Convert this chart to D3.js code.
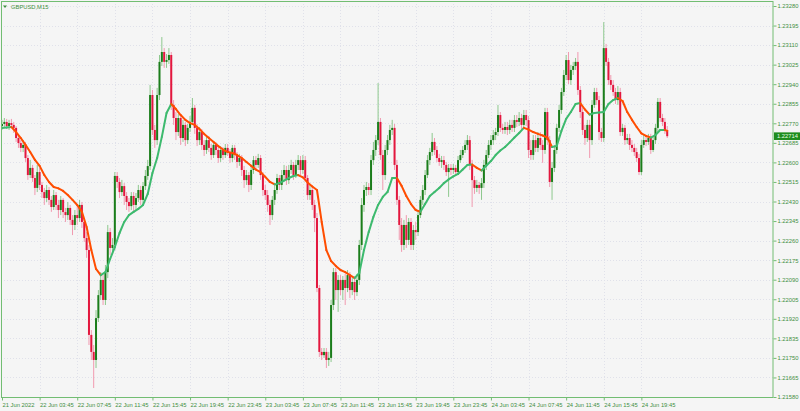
<!DOCTYPE html>
<html><head><meta charset="utf-8">
<script src="https://cdn.jsdelivr.net/npm/d3@7"></script>
<style>
html,body{margin:0;padding:0;background:#f5f5f5;}
svg{display:block;font-family:"Liberation Sans",Arial,sans-serif;}
</style></head><body>
<svg id="c" width="800" height="411"></svg>
<script>
const symbol = "GBPUSD,M15";
const firstOpen = 1.22758;
const closes = [
1.22767,1.22776,1.22758,1.22771,1.22763,1.22750,1.22706,1.22684,1.22663,1.22676,1.22619,1.22545,1.22576,1.22532,1.22489,1.22558,
1.22502,1.22471,1.22445,1.22480,1.22437,1.22406,1.22458,1.22415,1.22393,1.22437,1.22384,1.22371,1.22402,1.22350,1.22328,1.22371,
1.22358,1.22415,1.22341,1.22271,1.22219,1.21850,1.21776,1.21741,1.21923,1.22023,1.22089,1.22002,1.22123,1.22297,1.22228,1.22241,
1.22541,1.22515,1.22471,1.22497,1.22454,1.22428,1.22410,1.22454,1.22415,1.22445,1.22480,1.22437,1.22497,1.22541,1.22584,1.22893,
1.22741,1.22697,1.22893,1.23037,1.23080,1.23037,1.23045,1.23067,1.22850,1.22793,1.22732,1.22793,1.22706,1.22763,1.22697,1.22750,
1.22776,1.22837,1.22750,1.22697,1.22732,1.22676,1.22654,1.22697,1.22663,1.22632,1.22676,1.22654,1.22619,1.22654,1.22632,1.22663,
1.22645,1.22619,1.22663,1.22632,1.22602,1.22619,1.22567,1.22523,1.22545,1.22502,1.22567,1.22610,1.22589,1.22619,1.22545,1.22480,
1.22458,1.22415,1.22371,1.22437,1.22480,1.22532,1.22502,1.22545,1.22567,1.22523,1.22567,1.22589,1.22545,1.22589,1.22610,1.22567,
1.22610,1.22532,1.22458,1.22480,1.22415,1.22358,1.22054,1.21776,1.21762,1.21776,1.21741,1.21750,1.21980,1.22123,1.22045,1.22089,
1.22045,1.22089,1.22054,1.22110,1.22045,1.22080,1.22036,1.22089,1.22241,1.22415,1.22480,1.22493,1.22480,1.22610,1.22654,1.22697,
1.22776,1.22632,1.22545,1.22654,1.22697,1.22741,1.22750,1.22589,1.22437,1.22328,1.22241,1.22328,1.22263,1.22341,1.22241,1.22306,
1.22297,1.22371,1.22437,1.22480,1.22545,1.22610,1.22645,1.22689,1.22654,1.22619,1.22602,1.22610,1.22589,1.22558,1.22576,1.22567,
1.22576,1.22558,1.22610,1.22632,1.22654,1.22676,1.22697,1.22589,1.22523,1.22489,1.22502,1.22489,1.22510,1.22589,1.22632,1.22676,
1.22697,1.22719,1.22732,1.22806,1.22750,1.22741,1.22754,1.22741,1.22763,1.22750,1.22784,1.22776,1.22793,1.22763,1.22806,1.22784,
1.22654,1.22632,1.22697,1.22663,1.22706,1.22676,1.22654,1.22819,1.22697,1.22515,1.22576,1.22654,1.22750,1.22828,1.22906,1.22980,
1.23045,1.22958,1.23002,1.23019,1.23037,1.22915,1.22819,1.22741,1.22706,1.22763,1.22697,1.22850,1.22906,1.22871,1.22732,1.22706,
1.23097,1.23037,1.22958,1.22937,1.22906,1.22871,1.22906,1.22732,1.22750,1.22697,1.22706,1.22676,1.22663,1.22645,1.22619,1.22558,
1.22676,1.22697,1.22689,1.22706,1.22654,1.22697,1.22750,1.22863,1.22793,1.22776,1.22741,1.22714];
const highs = [
1.22785,1.22793,1.22789,1.22785,1.22789,1.22776,1.22758,1.22724,1.22697,1.22697,1.22689,1.22632,1.22611,1.22589,1.22545,1.22589,
1.22576,1.22515,1.22489,1.22502,1.22493,1.22454,1.22480,1.22471,1.22437,1.22454,1.22445,1.22402,1.22428,1.22415,1.22371,1.22393,
1.22415,1.22437,1.22428,1.22358,1.22297,1.22241,1.21871,1.21806,1.21958,1.22045,1.22123,1.22110,1.22154,1.22328,1.22315,1.22271,
1.22558,1.22558,1.22532,1.22524,1.22510,1.22471,1.22445,1.22471,1.22471,1.22467,1.22502,1.22498,1.22515,1.22567,1.22611,1.22937,
1.22915,1.22763,1.22924,1.23067,1.23145,1.23097,1.23071,1.23097,1.23080,1.22871,1.22819,1.22811,1.22806,1.22785,1.22776,1.22767,
1.22802,1.22880,1.22850,1.22767,1.22754,1.22745,1.22697,1.22715,1.22715,1.22680,1.22693,1.22689,1.22667,1.22671,1.22667,1.22680,
1.22680,1.22658,1.22676,1.22676,1.22645,1.22637,1.22632,1.22585,1.22567,1.22558,1.22585,1.22628,1.22628,1.22637,1.22632,1.22558,
1.22502,1.22480,1.22437,1.22454,1.22498,1.22550,1.22545,1.22567,1.22589,1.22585,1.22589,1.22611,1.22602,1.22611,1.22632,1.22628,
1.22632,1.22628,1.22545,1.22502,1.22498,1.22437,1.22380,1.22067,1.21793,1.21793,1.21793,1.21776,1.22002,1.22141,1.22141,1.22110,
1.22110,1.22106,1.22115,1.22132,1.22123,1.22097,1.22106,1.22115,1.22263,1.22445,1.22502,1.22515,1.22510,1.22632,1.22689,1.22719,
1.22945,1.22793,1.22654,1.22676,1.22719,1.22763,1.22785,1.22767,1.22611,1.22454,1.22358,1.22350,1.22371,1.22358,1.22358,1.22328,
1.22341,1.22393,1.22454,1.22502,1.22567,1.22632,1.22663,1.22728,1.22706,1.22671,1.22637,1.22628,1.22628,1.22602,1.22593,1.22593,
1.22593,1.22589,1.22628,1.22654,1.22671,1.22697,1.22719,1.22715,1.22611,1.22541,1.22524,1.22515,1.22532,1.22611,1.22654,1.22697,
1.22719,1.22741,1.22750,1.22850,1.22819,1.22767,1.22776,1.22776,1.22785,1.22785,1.22806,1.22806,1.22819,1.22811,1.22828,1.22828,
1.22802,1.22697,1.22719,1.22719,1.22732,1.22732,1.22697,1.22837,1.22837,1.22715,1.22602,1.22676,1.22767,1.22850,1.22924,1.23002,
1.23067,1.23080,1.23024,1.23037,1.23054,1.23080,1.22932,1.22837,1.22763,1.22785,1.22785,1.22871,1.22924,1.22924,1.22889,1.22750,
1.23210,1.23115,1.23054,1.22980,1.22958,1.22924,1.22932,1.22924,1.22767,1.22763,1.22724,1.22724,1.22697,1.22680,1.22663,1.22637,
1.22697,1.22719,1.22715,1.22724,1.22724,1.22715,1.22767,1.22880,1.22880,1.22811,1.22793,1.22758];
const lows = [
1.22741,1.22754,1.22745,1.22741,1.22750,1.22728,1.22689,1.22663,1.22645,1.22645,1.22602,1.22524,1.22532,1.22515,1.22458,1.22471,
1.22480,1.22445,1.22415,1.22428,1.22415,1.22385,1.22393,1.22393,1.22358,1.22371,1.22358,1.22341,1.22350,1.22328,1.22284,1.22306,
1.22328,1.22341,1.22315,1.22254,1.22185,1.21806,1.21741,1.21619,1.21706,1.21906,1.22002,1.21980,1.21980,1.22097,1.22198,1.22211,
1.22219,1.22489,1.22445,1.22454,1.22415,1.22393,1.22385,1.22393,1.22385,1.22393,1.22428,1.22415,1.22419,1.22480,1.22524,1.22567,
1.22719,1.22663,1.22676,1.22871,1.23019,1.23011,1.23011,1.23028,1.22828,1.22763,1.22697,1.22715,1.22676,1.22689,1.22671,1.22680,
1.22732,1.22763,1.22724,1.22671,1.22676,1.22654,1.22628,1.22637,1.22645,1.22611,1.22619,1.22632,1.22598,1.22602,1.22611,1.22619,
1.22628,1.22598,1.22602,1.22611,1.22576,1.22585,1.22541,1.22489,1.22502,1.22471,1.22480,1.22550,1.22567,1.22576,1.22524,1.22454,
1.22437,1.22385,1.22328,1.22350,1.22415,1.22463,1.22480,1.22480,1.22524,1.22502,1.22506,1.22550,1.22524,1.22532,1.22567,1.22545,
1.22550,1.22515,1.22437,1.22437,1.22393,1.22297,1.22036,1.21754,1.21741,1.21750,1.21706,1.21715,1.21732,1.21958,1.22002,1.21950,
1.22023,1.22002,1.21980,1.22036,1.22010,1.22023,1.22002,1.22019,1.22067,1.22219,1.22385,1.22454,1.22458,1.22458,1.22589,1.22628,
1.22676,1.22611,1.22480,1.22524,1.22632,1.22676,1.22719,1.22567,1.22415,1.22263,1.22211,1.22219,1.22228,1.22241,1.22219,1.22219,
1.22263,1.22280,1.22358,1.22415,1.22458,1.22532,1.22589,1.22628,1.22632,1.22602,1.22585,1.22576,1.22567,1.22541,1.22450,1.22545,
1.22550,1.22541,1.22545,1.22598,1.22619,1.22641,1.22654,1.22567,1.22406,1.22463,1.22471,1.22463,1.22437,1.22489,1.22567,1.22619,
1.22654,1.22676,1.22697,1.22715,1.22732,1.22724,1.22724,1.22719,1.22724,1.22732,1.22732,1.22754,1.22758,1.22741,1.22750,1.22758,
1.22619,1.22611,1.22611,1.22645,1.22645,1.22654,1.22598,1.22637,1.22676,1.22493,1.22437,1.22558,1.22637,1.22732,1.22811,1.22889,
1.22958,1.22941,1.22937,1.22980,1.23002,1.22893,1.22793,1.22719,1.22676,1.22689,1.22619,1.22676,1.22837,1.22850,1.22697,1.22689,
1.22689,1.23019,1.22937,1.22915,1.22889,1.22854,1.22850,1.22715,1.22715,1.22676,1.22680,1.22654,1.22645,1.22628,1.22602,1.22545,
1.22545,1.22663,1.22671,1.22676,1.22637,1.22645,1.22680,1.22732,1.22776,1.22758,1.22724,1.22706];
// moving average, read at every second bar (last value at the last bar)
const maValues = [
1.22750,1.22752,1.22754,1.22732,1.22706,1.22676,1.22645,1.22611,1.22585,1.22545,1.22515,1.22493,1.22487,1.22476,1.22458,1.22437,
1.22415,1.22385,1.22319,1.22219,1.22137,1.22110,1.22123,1.22180,1.22232,1.22293,1.22341,1.22371,1.22385,1.22398,1.22415,1.22463,
1.22554,1.22619,1.22711,1.22815,1.22854,1.22832,1.22806,1.22785,1.22771,1.22763,1.22745,1.22724,1.22706,1.22689,1.22671,1.22656,
1.22645,1.22641,1.22632,1.22619,1.22602,1.22585,1.22569,1.22558,1.22537,1.22515,1.22504,1.22510,1.22521,1.22532,1.22541,1.22545,
1.22535,1.22513,1.22495,1.22480,1.22341,1.22219,1.22171,1.22150,1.22132,1.22123,1.22110,1.22097,1.22119,1.22219,1.22297,1.22363,
1.22415,1.22450,1.22471,1.22532,1.22532,1.22498,1.22454,1.22419,1.22393,1.22385,1.22419,1.22454,1.22471,1.22489,1.22510,1.22526,
1.22539,1.22550,1.22569,1.22589,1.22591,1.22576,1.22565,1.22585,1.22606,1.22632,1.22652,1.22667,1.22687,1.22708,1.22728,1.22750,
1.22743,1.22732,1.22724,1.22717,1.22708,1.22667,1.22671,1.22737,1.22789,1.22819,1.22854,1.22858,1.22830,1.22808,1.22815,1.22817,
1.22819,1.22854,1.22871,1.22880,1.22867,1.22819,1.22785,1.22754,1.22726,1.22715,1.22708,1.22719,1.22741,1.22741,1.22737];
const priceLabels = ["1.23280","1.23195","1.23110","1.23025","1.22940","1.22855","1.22770","1.22685","1.22600","1.22515","1.22430",
"1.22345","1.22260","1.22175","1.22090","1.22005","1.21920","1.21835","1.21750","1.21665","1.21580"];
const timeLabels = ["21 Jun 2022","22 Jun 03:45","22 Jun 07:45","22 Jun 11:45","22 Jun 15:45","22 Jun 19:45","22 Jun 23:45",
"23 Jun 03:45","23 Jun 07:45","23 Jun 11:45","23 Jun 15:45","23 Jun 19:45","23 Jun 23:45","24 Jun 03:45","24 Jun 07:45",
"24 Jun 11:45","24 Jun 15:45","24 Jun 19:45"];
const barsPerLabel = 16;

const opens = [firstOpen].concat(closes.slice(0, -1));
const n = closes.length;
const maBars = d3.range(0, n - 1, 2).concat([n - 1]);

const C = {
  bg:"#f5f5f5", grid:"#e0e1ea", axis:"#72bd72", text:"#3f8f3f",
  bullBody:"#1b7d1b", bullWick:"#8ec88e", bearBody:"#e3173e", bearWick:"#f19ab0",
  maUp:"#3dba6e", maDown:"#ff4d00", label:"#1e8c1e"
};
const L = 1, T = 1, R = 773, B = 397;
const svg = d3.select("#c");
svg.append("rect").attr("width",800).attr("height",411).attr("fill",C.bg);

const x = d3.scaleLinear().domain([0, 328]).range([2, R]);
const y = d3.scaleLinear().domain([1.2158, 1.2328]).range([B, 6]);
const priceTicks = priceLabels.map(Number);
const timeTicks = timeLabels.map((d,i) => i * barsPerLabel);

// grid
const g = svg.append("g");
g.selectAll("line.h").data(priceTicks).join("line")
  .attr("x1", L).attr("x2", R)
  .attr("y1", d => Math.round(y(d)) + 0.5).attr("y2", d => Math.round(y(d)) + 0.5)
  .attr("stroke", C.grid).attr("stroke-dasharray","1,2");
g.selectAll("line.v").data(timeTicks.slice(1)).join("line")
  .attr("y1", T).attr("y2", B)
  .attr("x1", d => Math.round(x(d)) + 0.5).attr("x2", d => Math.round(x(d)) + 0.5)
  .attr("stroke", C.grid).attr("stroke-dasharray","1,2");

// candles
const candles = svg.append("g");
const idx = d3.range(n);
candles.selectAll("line.w").data(idx).join("line")
  .attr("x1", i => x(i)).attr("x2", i => x(i))
  .attr("y1", i => y(highs[i])).attr("y2", i => y(lows[i]))
  .attr("stroke", i => closes[i] >= opens[i] ? C.bullWick : C.bearWick)
  .attr("stroke-width", 1);
candles.selectAll("rect").data(idx).join("rect")
  .attr("x", i => x(i) - 1).attr("width", 2)
  .attr("y", i => y(Math.max(opens[i], closes[i])))
  .attr("height", i => Math.max(0.8, Math.abs(y(opens[i]) - y(closes[i]))))
  .attr("fill", i => closes[i] >= opens[i] ? C.bullBody : C.bearBody);

// moving average, colored by direction
const segs = d3.range(maValues.length - 1);
svg.append("g").selectAll("line").data(segs).join("line")
  .attr("x1", k => x(maBars[k])).attr("y1", k => y(maValues[k]))
  .attr("x2", k => x(maBars[k+1])).attr("y2", k => y(maValues[k+1]))
  .attr("stroke", k => maValues[k+1] >= maValues[k] ? C.maUp : C.maDown)
  .attr("stroke-width", 2).attr("stroke-linecap","round");

// frame
svg.append("rect").attr("x", L + 0.5).attr("y", T + 0.5)
  .attr("width", R - L - 0.5).attr("height", B - T)
  .attr("fill","none").attr("stroke", C.axis);

// right price axis
const ay = svg.append("g").attr("transform", `translate(${R + 0.5},0)`)
  .call(d3.axisRight(y).tickValues(priceTicks).tickSize(3).tickPadding(1)
    .tickFormat((d,i) => priceLabels[i]));
ay.select(".domain").remove();
ay.selectAll("line").attr("stroke", C.axis);
ay.selectAll("text").attr("fill", C.text).attr("font-size", 5.8).attr("font-family","Liberation Sans, Arial, sans-serif");

// bottom time axis
const ax = svg.append("g").attr("transform", `translate(0,${B + 0.5})`)
  .call(d3.axisBottom(x).tickValues(timeTicks).tickSize(3).tickPadding(2)
    .tickFormat((d,i) => timeLabels[i]));
ax.select(".domain").remove();
ax.selectAll("line").attr("stroke", C.axis);
ax.selectAll("text").attr("fill", C.text).attr("font-size", 5.8)
  .attr("text-anchor","start").attr("font-family","Liberation Sans, Arial, sans-serif");

// current price label
const last = closes[n - 1];
svg.append("rect").attr("x", R + 1).attr("y", y(last) - 3.8).attr("width", 26).attr("height", 7.6)
  .attr("fill", C.label);
svg.append("text").attr("x", R + 4).attr("y", y(last)).attr("dy","0.35em")
  .attr("fill","#e8ffe8").attr("font-size", 5.8).text(last.toFixed(5));

// title
svg.append("path").attr("d","M3,5.5L7,5.5L5,8Z").attr("fill", C.text);
svg.append("text").attr("x", 11).attr("y", 9).attr("fill", C.text)
  .attr("font-size", 5.8).text(symbol);
</script>
</body></html>
